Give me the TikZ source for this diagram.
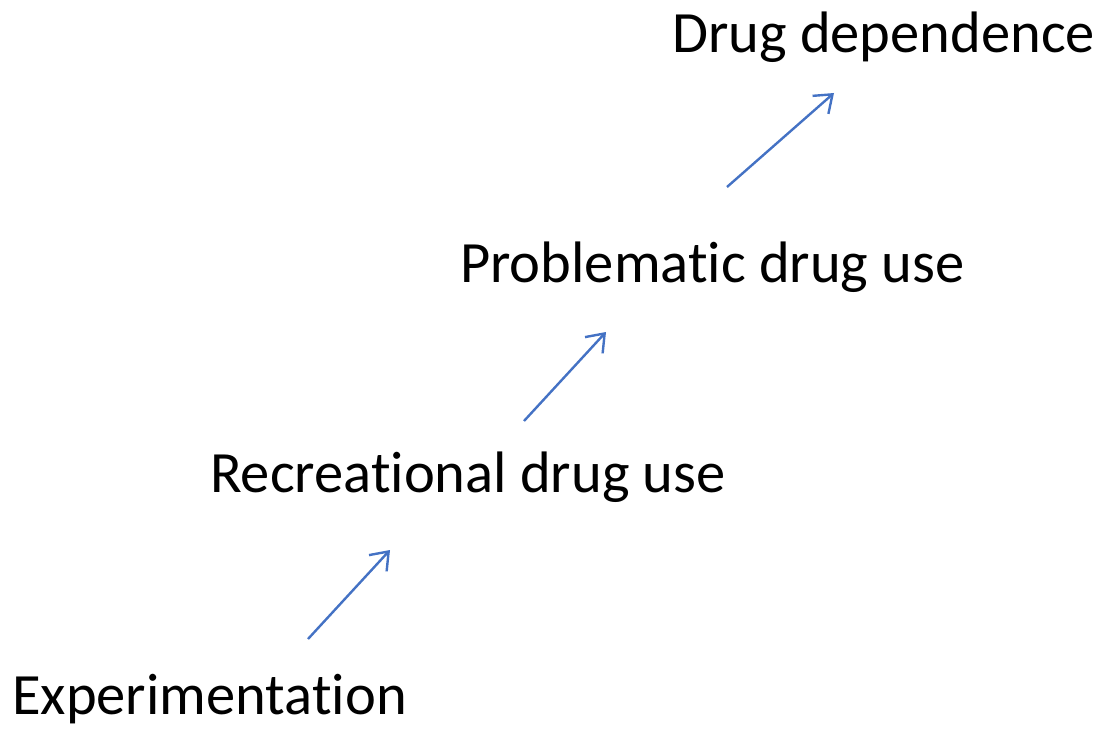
\documentclass[tikz,border=0pt]{standalone}
\usepackage{fontspec}
\setmainfont[RawFeature={-liga}]{Carlito}
\usepackage{xcolor}
\usetikzlibrary{arrows.meta}

\definecolor{stageblue}{HTML}{4472C4}

\begin{document}
\begin{tikzpicture}[
            x=1pt, y=-1pt,
            stage/.style={anchor=base west, inner sep=0pt, font=\fontsize{58.5}{70}\selectfont},
            step arrow/.style={-{Straight Barb[length=16pt, width=24pt, line width=2.4pt]}, draw=stageblue, line width=2.4pt}
        ]
        \useasboundingbox (0,0) rectangle (1101,730);

        \node[stage] (exp) at (12,714) {Experimentation};
        \node[stage] (rec) at (210,492) {Recreational drug use};
        \node[stage] (prob) at (460,283) {Problematic drug use};
        \node[stage] (dep) at (672,53) {Drug dependence};

        \coordinate (a1s) at (308,639);
        \coordinate (a1e) at (390,550);
        \coordinate (a2s) at (524,421);
        \coordinate (a2e) at (606,332);
        \coordinate (a3s) at (727,187);
        \coordinate (a3e) at (834,93);

        \draw[step arrow] (a1s) -- (a1e);
        \draw[step arrow] (a2s) -- (a2e);
        \draw[step arrow] (a3s) -- (a3e);

    \end{tikzpicture}
\end{document}
